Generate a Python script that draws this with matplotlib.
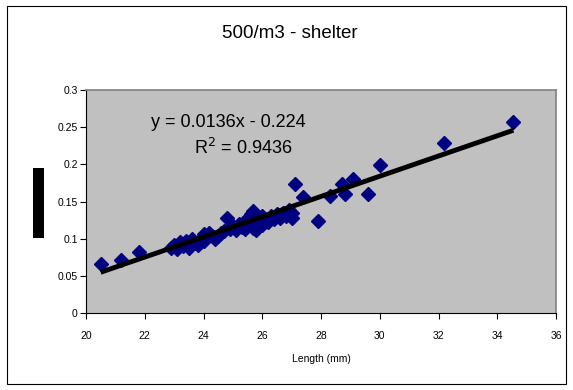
import numpy as np
import matplotlib
matplotlib.use("Agg")
import matplotlib.pyplot as plt
from matplotlib.patches import Rectangle

# data
length_mm = [
    20.5, 21.2, 21.8,
    22.9, 23.0, 23.1, 23.2, 23.3, 23.4, 23.5, 23.5, 23.6, 23.7, 23.8, 23.9,
    24.0, 24.0, 24.1, 24.2, 24.3, 24.4, 24.5, 24.6, 24.7, 24.8, 24.9,
    25.0, 25.1, 25.2, 25.3, 25.4, 25.4, 25.5, 25.5, 25.6, 25.6, 25.7, 25.7,
    25.8, 25.8, 25.9, 26.0, 26.0, 26.1, 26.2, 26.3, 26.4, 26.5, 26.6, 26.7,
    26.8, 26.9, 27.0, 27.0,
    27.1, 27.4, 27.9, 28.3, 28.7, 28.8, 29.1, 29.6, 30.0, 32.2, 34.55,
]
weight = [
    0.066, 0.071, 0.082,
    0.088, 0.092, 0.086, 0.095, 0.090, 0.097, 0.088, 0.093, 0.099, 0.094, 0.091, 0.100,
    0.106, 0.097, 0.102, 0.108, 0.104, 0.099, 0.103, 0.107, 0.110, 0.128, 0.113,
    0.117, 0.112, 0.120, 0.116, 0.124, 0.113, 0.128, 0.119, 0.133, 0.122, 0.137, 0.115,
    0.130, 0.112, 0.125, 0.131, 0.118, 0.127, 0.122, 0.130, 0.126, 0.133, 0.128, 0.134,
    0.131, 0.138, 0.128, 0.135,
    0.173, 0.156, 0.124, 0.158, 0.173, 0.160, 0.180, 0.160, 0.199, 0.229, 0.257,
]

# trendline as printed on the chart
slope = 0.0136
intercept = -0.224
r_squared = 0.9436

x_ticks = [20, 22, 24, 26, 28, 30, 32, 34, 36]
y_ticks = [0, 0.05, 0.1, 0.15, 0.2, 0.25, 0.3]
y_tick_labels = ["0", "0.05", "0.1", "0.15", "0.2", "0.25", "0.3"]

plt.rcParams['font.family'] = ['Liberation Sans', 'DejaVu Sans']

fig = plt.figure(figsize=(5.73, 3.90), dpi=100)
fig.patch.set_facecolor('white')

# outer chart frame
fig.patches.append(Rectangle((7 / 573, 6 / 390), 559 / 573, 378 / 390,
                             transform=fig.transFigure, fill=False,
                             edgecolor='black', linewidth=0.8))

# black block at the y-label position
fig.patches.append(Rectangle((33 / 573, (390 - 238) / 390), 11 / 573, 70 / 390,
                             transform=fig.transFigure, facecolor='black',
                             edgecolor='none'))

ax = fig.add_axes([86 / 573, (390 - 313) / 390, 470 / 573, 223 / 390])
ax.set_facecolor('#c0c0c0')

ax.plot(length_mm, weight, linestyle='none', marker='D', markersize=7.5,
        color='#000080', zorder=2)

xfit = np.array([min(length_mm), max(length_mm)])
ax.plot(xfit, slope * xfit + intercept, color='black', linewidth=3.5,
        solid_capstyle='butt', zorder=3)

ax.text(0.302, 0.855, "y = {}x - {}".format(slope, -intercept),
        transform=ax.transAxes, ha='center', va='center', fontsize=13)
ax.text(0.334, 0.74, "R$^2$ = {}".format(r_squared),
        transform=ax.transAxes, ha='center', va='center', fontsize=13)

ax.set_xlim(20, 36)
ax.set_ylim(0, 0.3)
ax.set_xticks(x_ticks)
ax.set_yticks(y_ticks)
ax.set_yticklabels(y_tick_labels)
ax.tick_params(axis='both', labelsize=7.5, length=4, width=0.8,
               direction='out')
ax.tick_params(axis='x', pad=9)
ax.tick_params(axis='y', pad=2)

for side in ['top', 'right']:
    ax.spines[side].set_color('#808080')
    ax.spines[side].set_linewidth(1.2)
for side in ['left', 'bottom']:
    ax.spines[side].set_color('black')
    ax.spines[side].set_linewidth(0.8)

ax.set_xlabel("Length (mm)", fontsize=7.5, labelpad=9)

fig.text(290 / 573, 1 - 33 / 390, "500/m3 - shelter", ha='center',
         va='center', fontsize=13.5)

fig.savefig("out.png", dpi=100)
